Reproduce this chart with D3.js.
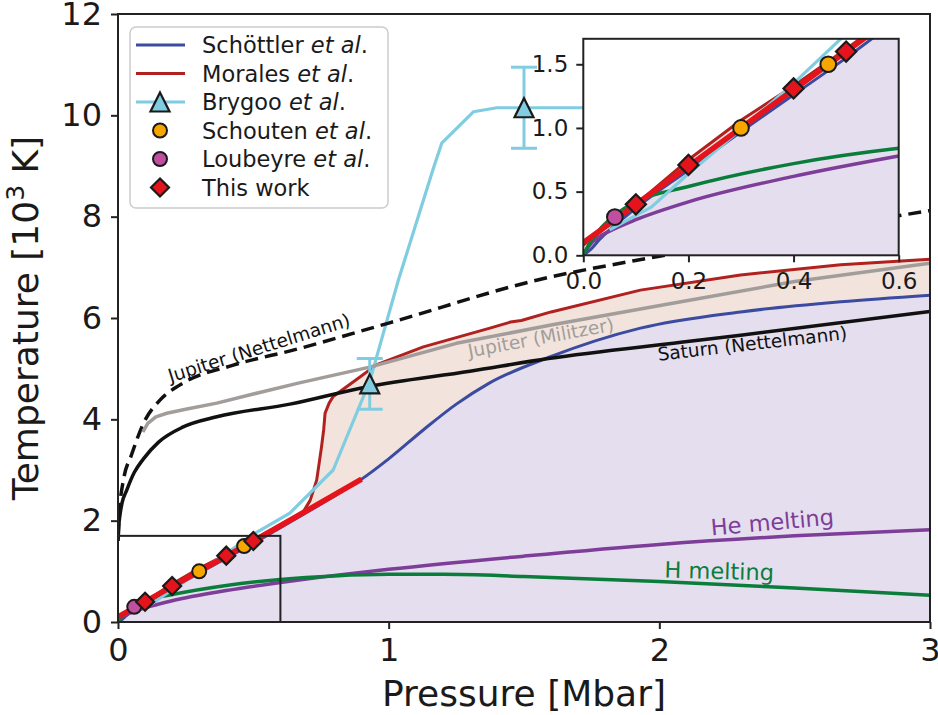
<!DOCTYPE html>
<html>
<head>
<meta charset="utf-8">
<script src="https://cdn.jsdelivr.net/npm/d3@7"></script>
<style>
  body { margin: 0; background: #fff; }
  svg { display: block; }
  text { font-family: "DejaVu Sans", sans-serif; fill: #1a1a1a; }
</style>
</head>
<body>
<svg id="chart" width="938" height="715"></svg>
<script>
// ---- Phase-boundary and isentrope curves: [pressure (Mbar), temperature (10^3 K)] ----
const schottler = [[0,0],[0.015,0.05],[0.03,0.12],[0.1,0.37],[0.2,0.67],[0.3,0.97],[0.4,1.26],[0.5,1.55],[0.6,1.86],[0.7,2.17],[0.8,2.49],[0.9,2.82],[1.0,3.22],[1.13,3.8],[1.25,4.3],[1.37,4.71],[1.59,5.22],[1.93,5.8],[2.3,6.12],[2.67,6.32],[3.0,6.45]];
const morales = [[0,0.08],[0.1,0.4],[0.2,0.75],[0.3,1.06],[0.4,1.33],[0.5,1.62],[0.6,1.92],[0.685,2.18],[0.71,2.4],[0.734,2.8],[0.745,3.2],[0.752,3.46],[0.76,3.8],[0.765,4.12],[0.78,4.32],[0.795,4.45],[0.88,4.78],[0.956,5.08],[1.128,5.43],[1.374,5.8],[1.45,5.92],[1.49,5.95],[1.6,6.12],[1.93,6.55],[2.3,6.85],[2.67,7.05],[3.0,7.16]];
const brygooLine = [[0.05,0.2],[0.13,0.38],[0.2,0.64],[0.3,0.99],[0.4,1.35],[0.49,1.7],[0.635,2.15],[0.795,3.0],[0.93,4.75],[1.036,6.75],[1.165,8.95],[1.196,9.45],[1.313,10.07],[1.4,10.15],[2.0,10.15]];
const thisWorkLine = [[0,0.1],[0.3,1.0],[0.6,1.9],[0.9,2.82]];
const jupiterNettelmann = [[0.0005,1.7],[0.003,2.0],[0.007,2.3],[0.02,2.8],[0.05,3.3],[0.094,3.92],[0.155,4.38],[0.229,4.68],[0.426,5.07],[0.65,5.37],[1.0,5.9],[1.55,6.75],[2.0,7.22],[2.5,7.68],[3.0,8.12]];
const jupiterMilitzer = [[0.092,3.75],[0.11,3.92],[0.14,4.05],[0.18,4.12],[0.25,4.2],[0.365,4.32],[0.5,4.5],[0.67,4.72],[0.93,5.03],[1.25,5.5],[1.6,5.86],[2.08,6.32],[2.5,6.72],[3.0,7.08]];
const saturnNettelmann = [[0.0005,1.6],[0.003,1.9],[0.007,2.1],[0.015,2.35],[0.032,2.6],[0.06,2.95],[0.094,3.22],[0.15,3.55],[0.241,3.85],[0.365,4.05],[0.635,4.3],[0.918,4.64],[1.3,4.95],[1.59,5.2],[2.08,5.52],[2.3,5.66],[3.0,6.13]];
const heMelting = [[0,0],[0.01,0.07],[0.032,0.15],[0.05,0.19],[0.1,0.28],[0.2,0.42],[0.4,0.62],[0.6,0.78],[0.8,0.92],[1.0,1.04],[1.5,1.3],[2.0,1.53],[2.5,1.7],[3.0,1.82]];
const hMelting = [[0,0],[0.01,0.08],[0.02,0.14],[0.035,0.22],[0.05,0.28],[0.075,0.36],[0.1,0.42],[0.2,0.54],[0.4,0.72],[0.6,0.84],[0.8,0.91],[1.0,0.94],[1.2,0.94],[1.5,0.9],[2.0,0.8],[2.5,0.67],[3.0,0.53]];

// ---- Measured points ----
const brygooP = [0.93, 1.5];
const brygooT = [4.7, 10.15];
const brygooErr = [0.5, 0.8];
const schoutenP = [0.3, 0.466];
const schoutenT = [1.0, 1.5];
const loubeyreP = [0.06];
const loubeyreT = [0.3];
const thisWorkP = [0.1, 0.2, 0.4, 0.5];
const thisWorkT = [0.4, 0.71, 1.31, 1.6];

// ---- Ticks ----
const xTicks = [0, 1, 2, 3];
const yTicks = [0, 2, 4, 6, 8, 10, 12];
const xTicksInset = [0, 0.2, 0.4, 0.6];
const yTicksInset = [0, 0.5, 1.0, 1.5];
const zoomBox = [0.6, 1.7];

const C = {
  blue: "#3a4ba0", morales: "#b0211f", brygoo: "#80cce0", red: "#e5141c",
  black: "#111111", gray: "#a29d9b", he: "#7d3d98", h: "#0a7d3a",
  lavender: "#e4deee", beige: "#f2e4dc", orange: "#f7a600", pink: "#c04f9f",
  edge: "#1a1a1a"
};

const svg = d3.select("#chart");
const defs = svg.append("defs");

const x = d3.scaleLinear().domain([0, 3]).range([118, 930]);
const y = d3.scaleLinear().domain([0, 12]).range([622, 14]);
const xi = d3.scaleLinear().domain([0, 0.6]).range([583.3, 898.7]);
const yi = d3.scaleLinear().domain([0, 1.7]).range([255.3, 38.8]);

defs.append("clipPath").attr("id", "clipMain").append("rect")
  .attr("x", 118).attr("y", 14).attr("width", 812).attr("height", 608);
defs.append("clipPath").attr("id", "clipInset").append("rect")
  .attr("x", 583.3).attr("y", 38.8).attr("width", 315.4).attr("height", 216.5);

const line = (sx, sy, curve) => d3.line().x(d => sx(d[0])).y(d => sy(d[1])).curve(curve);
const area = (sx, sy, curve) => d3.area().x(d => sx(d[0])).y0(sy(0)).y1(d => sy(d[1])).curve(curve);
const smooth = d3.curveMonotoneX, straight = d3.curveLinear;

function drawPhaseCurves(g, sx, sy, full) {
  g.append("path").attr("d", area(sx, sy, straight)(morales)).attr("fill", C.beige);
  g.append("path").attr("d", area(sx, sy, smooth)(schottler)).attr("fill", C.lavender);
  const stroke = (data, curve, color, w, dash) => {
    const p = g.append("path").attr("d", line(sx, sy, curve)(data))
      .attr("fill", "none").attr("stroke", color).attr("stroke-width", w)
      .attr("stroke-linejoin", "round");
    if (dash) p.attr("stroke-dasharray", dash);
  };
  stroke(schottler, smooth, C.blue, 3);
  stroke(morales, straight, C.morales, 3);
  stroke(heMelting, smooth, C.he, 3.5);
  stroke(hMelting, smooth, C.h, 3.5);
  stroke(brygooLine, straight, C.brygoo, 3.2);
  stroke(thisWorkLine, straight, C.red, 5.5);
  if (full) {
    stroke(jupiterNettelmann, smooth, C.black, 3.5, "13,7");
    stroke(jupiterMilitzer, straight, C.gray, 3.5);
    stroke(saturnNettelmann, smooth, C.black, 3.5);
  }
}

function drawMarkers(g, sx, sy, k) {
  const circ = (P, T, fill) => g.selectAll(null).data(P).enter().append("circle")
    .attr("cx", d => sx(d)).attr("cy", (d, i) => sy(T[i])).attr("r", 7 * k)
    .attr("fill", fill).attr("stroke", C.edge).attr("stroke-width", 2);
  circ(schoutenP, schoutenT, C.orange);
  circ(loubeyreP, loubeyreT, C.pink);
  const s = 9 * k;
  g.selectAll(null).data(thisWorkP).enter().append("path")
    .attr("d", `M0,${-s}L${s},0L0,${s}L${-s},0Z`)
    .attr("transform", (d, i) => `translate(${sx(d)},${sy(thisWorkT[i])})`)
    .attr("fill", C.red).attr("stroke", C.edge).attr("stroke-width", 2.2)
    .attr("stroke-linejoin", "miter");
}

// ---- Main panel ----
const main = svg.append("g").attr("clip-path", "url(#clipMain)");
drawPhaseCurves(main, x, y, true);

// zoom region outline
main.append("rect")
  .attr("x", x(0)).attr("y", y(zoomBox[1]))
  .attr("width", x(zoomBox[0]) - x(0)).attr("height", y(0) - y(zoomBox[1]))
  .attr("fill", "none").attr("stroke", "#222").attr("stroke-width", 2);

// Brygoo error bars and triangles
brygooP.forEach((p, i) => {
  const cx = x(p), t = brygooT[i], e = brygooErr[i];
  main.append("line").attr("x1", cx).attr("x2", cx).attr("y1", y(t - e)).attr("y2", y(t + e))
    .attr("stroke", C.brygoo).attr("stroke-width", 3);
  [t - e, t + e].forEach(v => main.append("line")
    .attr("x1", cx - 13).attr("x2", cx + 13).attr("y1", y(v)).attr("y2", y(v))
    .attr("stroke", C.brygoo).attr("stroke-width", 3));
});
main.selectAll(null).data(brygooP).enter().append("path")
  .attr("d", "M0,-9.5L9.5,9.5L-9.5,9.5Z")
  .attr("transform", (d, i) => `translate(${x(d)},${y(brygooT[i])})`)
  .attr("fill", C.brygoo).attr("stroke", C.edge).attr("stroke-width", 2.2);

drawMarkers(main, x, y, 1);

// curve labels
const curveLabel = (txt, cx, cy, ang, size, color) => svg.append("text")
  .attr("transform", `translate(${cx},${cy}) rotate(${ang})`)
  .attr("text-anchor", "middle").style("font-size", size + "px").style("fill", color).text(txt);
curveLabel("Jupiter (Nettelmann)", 261, 354, -17.5, 18.5, "#111");
curveLabel("Jupiter (Militzer)", 542, 344, -10.5, 18.5, C.gray);
curveLabel("Saturn (Nettelmann)", 753, 350, -6.5, 18.5, "#111");
curveLabel("He melting", 773, 530, -5, 22.5, C.he);
curveLabel("H melting", 719, 579, 1.5, 22.5, C.h);

// axes frame
svg.append("rect").attr("x", 118).attr("y", 14).attr("width", 812).attr("height", 608)
  .attr("fill", "none").attr("stroke", "#222").attr("stroke-width", 2);

function styleAxis(g, size) {
  g.select(".domain").remove();
  g.selectAll(".tick line").attr("stroke", "#222").attr("stroke-width", 2);
  g.selectAll(".tick text").style("font-size", size + "px").style("fill", "#1a1a1a")
    .attr("font-family", null);
}
const gx = svg.append("g").attr("transform", "translate(0,622)")
  .call(d3.axisBottom(x).tickValues(xTicks).tickFormat(d3.format("d")).tickSize(7).tickPadding(9));
styleAxis(gx, 32);
const gy = svg.append("g").attr("transform", "translate(118,0)")
  .call(d3.axisLeft(y).tickValues(yTicks).tickFormat(d3.format("d")).tickSize(7).tickPadding(9));
styleAxis(gy, 32);

svg.append("text").attr("x", 524).attr("y", 706).attr("text-anchor", "middle")
  .style("font-size", "36px").text("Pressure [Mbar]");
const yl = svg.append("text").attr("transform", "translate(38,318) rotate(-90)")
  .attr("text-anchor", "middle").style("font-size", "36px");
yl.append("tspan").text("Temperature [10");
yl.append("tspan").attr("dy", -14).style("font-size", "25px").text("3");
yl.append("tspan").attr("dy", 14).text(" K]");

// ---- Legend ----
const lg = svg.append("g");
lg.append("rect").attr("x", 130).attr("y", 27).attr("width", 258).attr("height", 181).attr("rx", 6)
  .attr("fill", "#fff").attr("fill-opacity", 0.85).attr("stroke", "#cccccc").attr("stroke-width", 1.5);
const legendItems = [
  { name: "Schöttler", ital: true, kind: "line", color: C.blue },
  { name: "Morales", ital: true, kind: "line", color: C.morales },
  { name: "Brygoo", ital: true, kind: "tri", color: C.brygoo },
  { name: "Schouten", ital: true, kind: "circle", color: C.orange },
  { name: "Loubeyre", ital: true, kind: "circle", color: C.pink },
  { name: "This work", ital: false, kind: "diamond", color: C.red }
];
legendItems.forEach((it, i) => {
  const cy = 45 + i * 28.5;
  if (it.kind === "line" || it.kind === "tri") {
    lg.append("line").attr("x1", 136).attr("x2", 185).attr("y1", cy).attr("y2", cy)
      .attr("stroke", it.color).attr("stroke-width", 3.2);
  }
  if (it.kind === "tri") {
    lg.append("path").attr("d", "M0,-9.5L9.5,9.5L-9.5,9.5Z").attr("transform", `translate(160,${cy})`)
      .attr("fill", it.color).attr("stroke", C.edge).attr("stroke-width", 2.2);
  } else if (it.kind === "circle") {
    lg.append("circle").attr("cx", 160).attr("cy", cy).attr("r", 7)
      .attr("fill", it.color).attr("stroke", C.edge).attr("stroke-width", 2);
  } else if (it.kind === "diamond") {
    lg.append("path").attr("d", "M0,-9L9,0L0,9L-9,0Z").attr("transform", `translate(160,${cy})`)
      .attr("fill", it.color).attr("stroke", C.edge).attr("stroke-width", 2.2);
  }
  const t = lg.append("text").attr("x", 202).attr("y", cy).attr("dy", "0.36em").style("font-size", "22.5px");
  if (it.ital) {
    t.append("tspan").text(it.name + " ");
    t.append("tspan").style("font-style", "italic").text("et al");
    t.append("tspan").text(".");
  } else {
    t.text(it.name);
  }
});

// ---- Inset ----
svg.append("rect").attr("x", 583.3).attr("y", 38.8).attr("width", 315.4).attr("height", 216.5).attr("fill", "#fff");
const inset = svg.append("g").attr("clip-path", "url(#clipInset)");
drawPhaseCurves(inset, xi, yi, false);
drawMarkers(inset, xi, yi, 1.12);
svg.append("rect").attr("x", 583.3).attr("y", 38.8).attr("width", 315.4).attr("height", 216.5)
  .attr("fill", "none").attr("stroke", "#222").attr("stroke-width", 2);
const gxi = svg.append("g").attr("transform", "translate(0,255.3)")
  .call(d3.axisBottom(xi).tickValues(xTicksInset).tickFormat(d3.format(".1f")).tickSize(7).tickPadding(10));
styleAxis(gxi, 23);
const gyi = svg.append("g").attr("transform", "translate(583.3,0)")
  .call(d3.axisLeft(yi).tickValues(yTicksInset).tickFormat(d3.format(".1f")).tickSize(7).tickPadding(8));
styleAxis(gyi, 23);
</script>
</body>
</html>
